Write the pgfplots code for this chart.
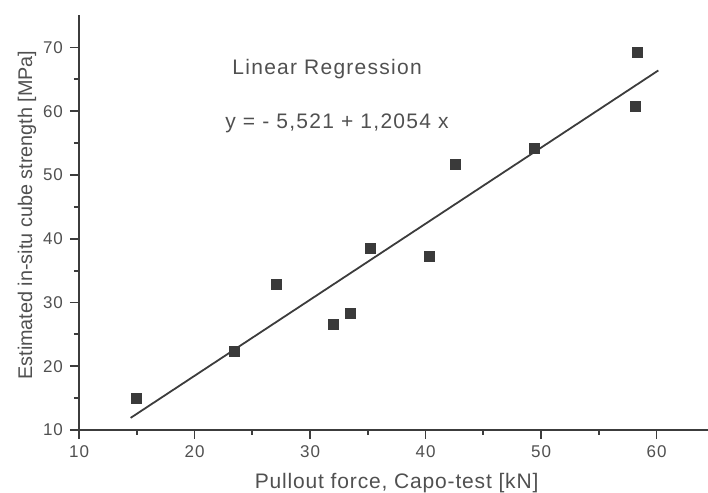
\documentclass[border=0pt]{standalone}
\usepackage{fontspec}
\setmainfont{Liberation Sans}
\newfontfamily\spaced[LetterSpace=6]{Liberation Sans}
\newfontfamily\spacedb[LetterSpace=4]{Liberation Sans}
\usepackage{pgfplots}
\pgfplotsset{compat=1.18}
\definecolor{txt}{HTML}{505050}
\definecolor{axc}{HTML}{3c3c3c}
\definecolor{mk}{HTML}{3a3a3a}
\begin{document}
\begin{tikzpicture}
\begin{axis}[
  scale only axis, width=314.5pt, height=207.5pt,
  xmin=10, xmax=64.45, ymin=10, ymax=75.1,
  axis lines=left, axis line style={-, axc, line width=1.1pt},
  xtick={10,20,...,60}, ytick={10,20,...,70},
  minor tick num=1,
  tick align=outside, tick style={axc, line width=0.9pt},
  major tick length=4.5pt, minor tick length=2.5pt,
  /pgf/number format/assume math mode=true,
  ticklabel style={font=\fontsize{8.5}{10}\spaced, text=txt},
  xlabel={Pullout force, Capo-test [kN]},
  ylabel={Estimated in-situ cube strength [MPa]},
  xlabel style={at={(axis description cs:0.505,-0.1398)}, anchor=base, font=\fontsize{10.5}{12}\spacedb, text=txt},
  ylabel style={at={(axis description cs:-0.0747,0.518)}, anchor=base, rotate=0, font=\fontsize{9.9}{12}\selectfont, text=txt},
  clip=false,
]
\addplot[only marks, mark=square*, mark size=2.5pt, color=mk] coordinates {
  (15,15) (23.45,22.4) (27.1,32.8) (32.0,26.6) (33.5,28.3) (35.25,38.5)
  (40.3,37.3) (42.6,51.7) (49.4,54.2) (58.3,69.2) (58.2,60.8)
};
\addplot[axc, line width=0.9pt] coordinates {(14.47,11.9) (60.15,66.4)};
\node[anchor=base west, inner sep=0, text=txt, font=\fontsize{10.5}{12}\spaced] at (axis cs:23.25,65.8) {Linear Regression};
\node[anchor=base west, inner sep=0, text=txt, font=\fontsize{10.5}{12}\spaced] at (axis cs:22.64,57.3) {y = - 5,521 + 1,2054 x};
\coordinate (bl) at (rel axis cs:0,0);
\coordinate (tr) at (rel axis cs:1,1);
\end{axis}
\pgfresetboundingbox
\path ([shift={(-39.5pt,-31.5pt)}]bl) rectangle ([shift={(0pt,7.5pt)}]tr);
\end{tikzpicture}
\end{document}
